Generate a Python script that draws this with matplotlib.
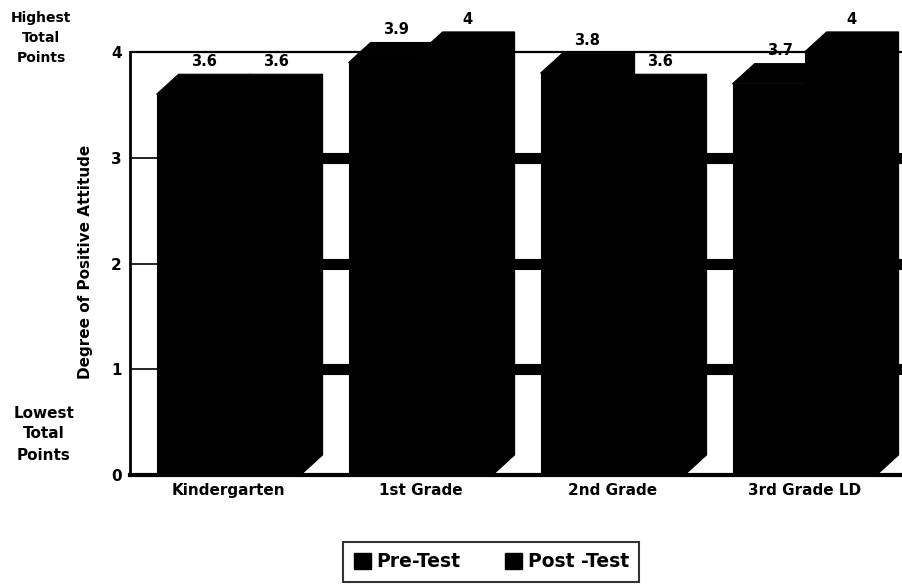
import matplotlib
matplotlib.use("Agg")
import matplotlib.pyplot as plt
from matplotlib.patches import Polygon, Patch

plt.rcParams['font.family'] = ['DejaVu Sans']
plt.rcParams['font.weight'] = 'bold'

categories = ["Kindergarten", "1st Grade", "2nd Grade", "3rd Grade LD"]
pre_test = [3.6, 3.9, 3.8, 3.7]
post_test = [3.6, 4.0, 3.6, 4.0]
series_names = ["Pre-Test", "Post -Test"]
y_ticks = [0, 1, 2, 3, 4]

# bar geometry (x in category units, y in score units)
bar_w = 0.375
depth_x = 0.115
depth_y = 0.19

fig = plt.figure(figsize=(9.03, 5.84), dpi=100)
ax = fig.add_axes([0.144, 0.1866, 0.856, 0.8058])
ax.set_xlim(-0.513, 3.513)
ax.set_ylim(0, 4.45)

xs = list(range(len(categories)))
left_edge = xs[0] - bar_w

# grid: thin across, thick bands behind the bars
for yv in y_ticks[1:4]:
    ax.axhline(yv, color='black', lw=1.2, zorder=1)
    ax.hlines(yv, left_edge, 3.6, color='black', lw=8, zorder=1)
ax.axhline(4, color='black', lw=1.6, zorder=1)


def draw_bar(xc, v):
    x0 = xc - bar_w / 2
    x1 = xc + bar_w / 2
    ax.bar(xc, v, width=bar_w, color='black', edgecolor='black', lw=0.8, zorder=3)
    # top and side faces of the 3-D block
    pts = [(x0, v), (x0 + depth_x, v + depth_y), (x1 + depth_x, v + depth_y),
           (x1 + depth_x, depth_y), (x1, 0), (x1, v)]
    ax.add_patch(Polygon(pts, closed=True, facecolor='black', edgecolor='black',
                         lw=0.8, zorder=3))
    ax.text(xc + depth_x / 2, v + depth_y + 0.05, "{:g}".format(v),
            ha='center', va='bottom', fontsize=10.5, fontweight='bold', zorder=4)


for i in xs:
    draw_bar(i - bar_w / 2, pre_test[i])
    draw_bar(i + bar_w / 2, post_test[i])

for s in ['top', 'right']:
    ax.spines[s].set_visible(False)
ax.spines['left'].set_linewidth(2)
ax.spines['left'].set_bounds(0, 4)
ax.spines['bottom'].set_linewidth(3)
ax.spines['left'].set_zorder(5)
ax.spines['bottom'].set_zorder(5)

ax.set_yticks(y_ticks)
ax.set_yticklabels([str(t) for t in y_ticks], fontsize=11, fontweight='bold')
ax.set_xticks(xs)
ax.set_xticklabels(categories, fontsize=11, fontweight='bold')
ax.tick_params(axis='both', length=0)
ax.tick_params(axis='y', pad=6)
ax.tick_params(axis='x', pad=6)

fig.text(86 / 903, 1 - 262 / 584, "Degree of Positive Attitude", rotation=90,
         ha='center', va='center', fontsize=11, fontweight='bold')

fig.text(41 / 903, 1 - 38 / 584, "Highest\nTotal\nPoints", ha='center', va='center',
         fontsize=10, fontweight='bold', linespacing=1.55)
fig.text(44 / 903, 1 - 434 / 584, "Lowest\nTotal\nPoints", ha='center', va='center',
         fontsize=11, fontweight='bold', linespacing=1.5)

handles = [Patch(facecolor='black', edgecolor='black', label=n) for n in series_names]
leg = fig.legend(handles=handles, loc='center', bbox_to_anchor=(0.544, 0.038),
                 ncol=2, frameon=True, fancybox=False,
                 handlelength=0.9, handleheight=0.9, handletextpad=0.3,
                 columnspacing=2.4, borderpad=0.55, prop={'weight': 'bold', 'size': 13.5})
leg.get_frame().set_edgecolor('black')
leg.get_frame().set_linewidth(1.5)

fig.savefig("out.png", dpi=100)
